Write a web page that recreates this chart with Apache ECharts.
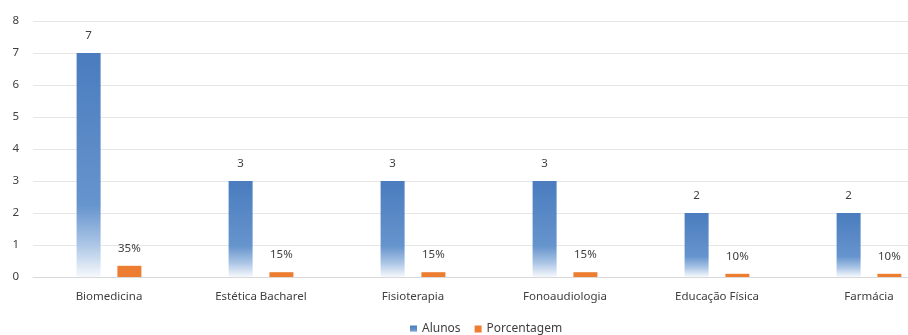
<!DOCTYPE html>
<html>
<head>
<meta charset="utf-8">
<script src="https://cdn.jsdelivr.net/npm/echarts@6/dist/echarts.min.js"></script>
<style>
  html, body { margin: 0; padding: 0; background: #fff; overflow: hidden; }
  #chart { width: 945px; height: 335px; }
</style>
</head>
<body>
<div id="chart"></div>
<script>
// Cursos e número de alunos, com a porcentagem correspondente
const cursos = ['Biomedicina', 'Estética Bacharel', 'Fisioterapia', 'Fonoaudiologia', 'Educação Física', 'Farmácia'];
const alunos = [7, 3, 3, 3, 2, 2];
const porcentagem = [0.35, 0.15, 0.15, 0.15, 0.10, 0.10];
const yTicks = [0, 1, 2, 3, 4, 5, 6, 7, 8];

const FONT = 'Noto Sans';
const chart = echarts.init(document.getElementById('chart'));

chart.setOption({
  animation: false,
  textStyle: { fontFamily: FONT },
  grid: { left: 33, top: 21, right: 0, height: 256, containLabel: false },
  legend: {
    top: 318,
    left: 405,
    itemWidth: 7,
    itemHeight: 7,
    itemGap: 14,
    icon: 'rect',
    textStyle: { fontSize: 12, color: '#404040', fontFamily: FONT },
    data: ['Alunos', 'Porcentagem']
  },
  xAxis: {
    type: 'category',
    data: cursos,
    axisLine: { lineStyle: { color: '#d9d9d9' } },
    axisTick: { show: false },
    axisLabel: { fontSize: 11.5, color: '#404040', margin: 14, fontFamily: FONT }
  },
  yAxis: {
    type: 'value',
    min: yTicks[0],
    max: yTicks[yTicks.length - 1],
    interval: 1,
    axisLine: { show: false },
    axisTick: { show: false },
    axisLabel: { fontSize: 11.5, color: '#404040', margin: 14, fontFamily: FONT },
    splitLine: { lineStyle: { color: '#e6e6e6' } }
  },
  series: [
    {
      name: 'Alunos',
      type: 'bar',
      data: alunos,
      barWidth: 24,
      barGap: '70%',
      itemStyle: {
        // vertical fade: solid blue on top, white at the base
        color: {
          type: 'linear', x: 0, y: 0, x2: 0, y2: 1,
          colorStops: [
            { offset: 0, color: '#4a7cbe' },
            { offset: 0.68, color: '#6694cd' },
            { offset: 0.85, color: '#a9c4e5' },
            { offset: 1, color: '#f6f9fc' }
          ]
        }
      },
      label: { show: true, position: 'top', distance: 11, fontSize: 11.5, color: '#404040', fontFamily: FONT }
    },
    {
      name: 'Porcentagem',
      type: 'bar',
      data: porcentagem,
      barWidth: 24,
      itemStyle: { color: '#ed7d31' },
      label: {
        show: true, position: 'top', distance: 11, fontSize: 11.5, color: '#404040', fontFamily: FONT,
        formatter: p => Math.round(p.value * 100) + '%'
      }
    }
  ]
});
</script>
</body>
</html>
